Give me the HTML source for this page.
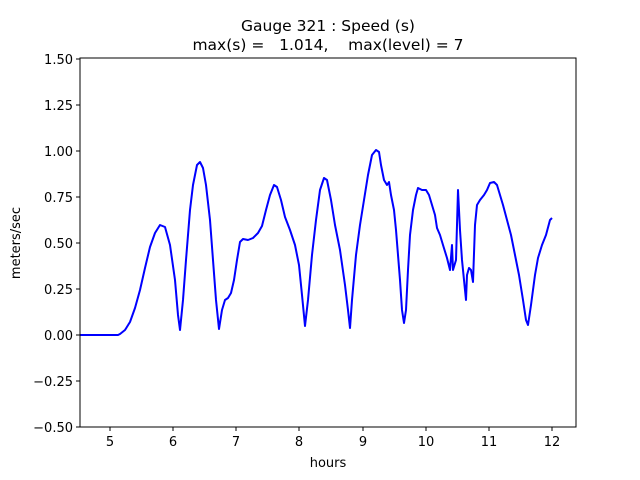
<!DOCTYPE html>
<html><head><meta charset="utf-8"><style>body{margin:0;background:#fff}svg{display:block}text{font-family:"DejaVu Sans","Liberation Sans",sans-serif;font-size:13px;fill:#000}</style></head><body>
<svg width="640" height="480" xmlns="http://www.w3.org/2000/svg">
<rect width="640" height="480" fill="#fff"/>
<text x="328" y="31" text-anchor="middle" style="font-size:15.5px">Gauge 321 : Speed (s)</text>
<text x="328" y="50" text-anchor="middle" style="font-size:15.5px" xml:space="preserve">max(s) =   1.014,    max(level) = 7</text>
<polyline fill="none" stroke="#0000ff" stroke-width="2" stroke-linejoin="round" points="80,335 118,335 120,334 125,330 130,322 135,308 140,290 145,268 150,247 155,233 160,225 165,227 170,245 175,280 178,315 180,330 183,300 186,260 190,210 193,185 197,165 200,162 203,168 206,185 210,220 213,260 216,300 219,329 222,310 225,300 228,298 231,293 234,280 237,260 240,242 243,239 248,240 253,238 258,233 262,226 266,210 270,195 274,185 277,187 281,200 285,217 290,230 295,245 299,265 302,295 305,326 308,300 312,255 316,220 320,190 324,178 327,180 331,200 335,225 340,250 345,285 348,310 350,328 352,300 356,255 360,225 364,200 368,175 372,155 376,150 379,152 381,165 384,180 387,185 389,182 391,195 394,210 396,230 398,255 400,280 402,310 404,323 406,310 408,270 410,235 413,210 416,195 418,188 422,190 426,190 429,195 432,205 435,215 437,228 440,235 443,245 447,258 450,270 452,245 453,270 456,260 458,190 460,230 462,260 464,280 466,300 467,275 469,268 471,270 473,282 475,225 477,205 480,200 484,195 487,190 490,183 494,182 497,185 500,195 503,205 507,220 511,235 515,255 519,275 523,300 526,320 528,325 531,305 535,275 538,258 542,245 546,235 550,220 552,218"/>
<rect x="80" y="58" width="496" height="369" fill="none" stroke="#000" stroke-width="1"/>
<g stroke="#000">
<line x1="76" y1="427" x2="80" y2="427"/><line x1="76" y1="381" x2="80" y2="381"/><line x1="76" y1="335" x2="80" y2="335"/><line x1="76" y1="289" x2="80" y2="289"/><line x1="76" y1="243" x2="80" y2="243"/><line x1="76" y1="197" x2="80" y2="197"/><line x1="76" y1="151" x2="80" y2="151"/><line x1="76" y1="105" x2="80" y2="105"/><line x1="76" y1="59" x2="80" y2="59"/>
<line x1="110" y1="427" x2="110" y2="431"/><line x1="173" y1="427" x2="173" y2="431"/><line x1="236" y1="427" x2="236" y2="431"/><line x1="299" y1="427" x2="299" y2="431"/><line x1="363" y1="427" x2="363" y2="431"/><line x1="426" y1="427" x2="426" y2="431"/><line x1="489" y1="427" x2="489" y2="431"/><line x1="552" y1="427" x2="552" y2="431"/>
</g>
<g text-anchor="end">
<text x="73" y="432">−0.50</text><text x="73" y="386">−0.25</text><text x="73" y="340">0.00</text><text x="73" y="294">0.25</text><text x="73" y="248">0.50</text><text x="73" y="202">0.75</text><text x="73" y="156">1.00</text><text x="73" y="110">1.25</text><text x="73" y="64">1.50</text>
</g>
<g text-anchor="middle">
<text x="110" y="446">5</text><text x="173" y="446">6</text><text x="236" y="446">7</text><text x="299" y="446">8</text><text x="363" y="446">9</text><text x="426" y="446">10</text><text x="489" y="446">11</text><text x="552" y="446">12</text>
<text x="328" y="467">hours</text>
</g>
<text x="20" y="243" text-anchor="middle" transform="rotate(-90 20 243)">meters/sec</text>
</svg>
</body></html>
